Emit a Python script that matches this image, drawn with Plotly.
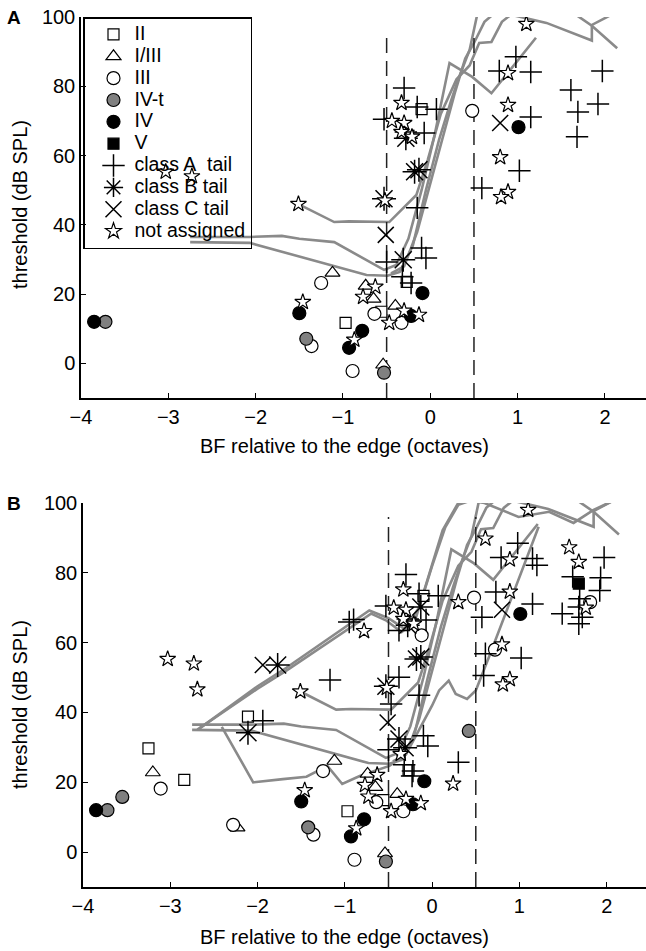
import plotly.graph_objects as go

FONT = "Liberation Sans"

# ---------------- data (shared by both panels) ----------------
II_x = [-0.97, -0.10, -0.56, -0.27]
II_y = [11.7, 73.4, 14.9, 23.5]
I3_x = [-1.12, -0.74, -0.65, -0.40, -0.54]
I3_y = [26.1, 22.4, 18.6, 16.6, -0.4]
III_x = [-1.25, -0.64, -0.33, -1.36, -0.89, 0.48]
III_y = [23.2, 14.3, 11.7, 5.0, -2.2, 72.9]
IVt_x = [-3.72, -1.42, -0.53]
IVt_y = [12.0, 7.1, -2.7]
IV_x = [-3.85, -1.50, -0.78, -0.93, -0.22, -0.09, 1.01]
IV_y = [12.0, 14.5, 9.4, 4.5, 13.7, 20.3, 68.2]
V_x = []
V_y = []
cA_x = [-0.30, -0.15, 0.07, -0.53, -0.28, -0.07, -0.15, -0.10, -0.05, -0.32, -0.22, -0.50,
        0.98, 0.79, 1.15, 1.97, 1.61, 1.92, 1.69, 1.68, 1.15, 1.02, 0.59]
cA_y = [79.5, 74.0, 73.4, 70.5, 66.8, 66.5, 44.9, 33.3, 30.4, 25.0, 23.2, 29.3,
        88.5, 84.4, 84.1, 84.4, 78.9, 74.9, 72.6, 65.4, 71.1, 55.6, 50.6]
cB_x = [-0.53, -0.28, -0.18, -0.13, -0.31]
cB_y = [47.5, 65.0, 55.3, 55.9, 29.9]
cC_x = [-0.51, 0.80]
cC_y = [37.1, 69.4]
na_x = [-3.03, -2.73, -1.51, -0.52, -0.33, -0.44, -0.30, -0.33, -0.21, -1.46, -0.63,
        -0.77, -0.47, -0.30, -0.13, -0.87, 1.10, 0.89, 0.89, 0.80, 0.89, 0.81]
na_y = [55.3, 54.0, 46.0, 47.0, 75.2, 70.0, 69.4, 66.8, 65.4, 17.7, 22.1,
        19.2, 11.7, 15.2, 14.0, 6.8, 98.0, 83.8, 74.6, 59.5, 49.5, 48.0]

# ---------------- extra units only in panel B ----------------
II_bx = [-3.25, -2.84, -2.11]
II_by = [29.7, 20.7, 38.8]
I3_bx = [-3.20, -2.23]
I3_by = [22.8, 7.0]
III_bx = [-3.11, -2.28, 1.81, 0.72, -0.12]
III_by = [18.2, 7.8, 71.6, 58.0, 62.1]
IVt_bx = [-3.55, 0.42]
IVt_by = [15.8, 34.7]
IV_bx = []
IV_by = []
V_bx = [1.68]
V_by = [76.9]
cA_bx = [-1.17, -1.94, -0.47, -0.38, 0.30, -0.95, -0.90, -0.38, 1.20, 1.93, 1.68, 1.49,
         1.72, 0.73, 0.57, 0.61, -0.23]
cA_by = [49.3, 37.6, 42.4, 50.1, 25.7, 65.9, 66.6, 63.5, 82.2, 78.6, 70.2, 68.3,
         67.3, 74.5, 67.3, 56.8, 21.8]
cB_bx = [-1.77, -2.11, -0.13, -0.38]
cB_by = [53.6, 34.2, 70.2, 32.4]
cC_bx = [-1.94]
cC_by = [53.6]
na_bx = [-2.69, 0.61, 1.57, 1.68, 1.76, 0.30, -0.78, 0.24, -0.36, -0.73]
na_by = [46.6, 89.8, 87.3, 83.1, 70.0, 71.6, 63.3, 19.6, 28.1, 15.9]

# ---------------- gray threshold curves ----------------
c1_x = [-1.51, -1.10, -0.93, -0.47, -0.16, -0.03, 0.12, 0.30, 0.45, 0.56, 0.70, 0.82, 0.94]
c1_y = [46.0, 40.8, 41.0, 40.8, 48.6, 58.7, 72.0, 82.0, 86.0, 92.5, 92.8, 98.6, 101.0]
c2_x = [-2.75, -2.07, -1.70, -1.50, -1.10, -0.53, -0.39, -0.25, -0.10, 0.05, 0.22, 0.48, 0.70, 1.21]
c2_y = [36.5, 36.5, 36.8, 36.0, 35.0, 27.0, 28.4, 36.0, 50.0, 66.0, 86.7, 82.7, 78.0, 94.0]
c3_x = [-2.75, -2.07, -0.73, -0.49, -0.35, -0.20, -0.05, 0.10, 0.24, 0.33, 0.45, 0.54]
c3_y = [35.0, 34.8, 25.5, 25.3, 26.4, 34.0, 50.0, 64.5, 76.0, 82.7, 90.5, 101.0]
c4_x = [-0.45, -0.30, -0.15, 0.00, 0.15, 0.28, 0.40, 0.50, 0.62, 0.73]
c4_y = [26.0, 28.0, 38.0, 52.0, 66.0, 78.0, 88.0, 92.5, 98.6, 101.0]
c5_x = [0.95, 1.33, 1.85, 1.85, 2.07]
c5_y = [100.5, 98.3, 93.2, 97.7, 100.6]
c6_x = [1.67, 1.85, 2.14]
c6_y = [100.6, 97.5, 91.0]
d1_x = [-2.69, -2.00, -1.67, -0.70, -0.53, -0.35, -0.20, -0.05, 0.12, 0.31]
d1_y = [35.1, 46.8, 52.0, 68.3, 66.4, 63.0, 66.0, 78.0, 92.2, 100.5]
d2_x = [-2.66, -2.00, -1.67, -0.72, -0.50, -0.32, -0.15, 0.00, 0.15, 0.30, 0.42]
d2_y = [35.5, 47.5, 52.8, 69.2, 67.0, 64.0, 70.0, 82.0, 93.0, 99.5, 100.5]
d3_x = [-2.41, -2.05, -1.71, -1.44, -1.20, -1.03, -0.83, -0.49, -0.30, -0.15, 0.00, 0.08,
        0.19, 0.27, 0.40, 0.50, 0.65, 1.22]
d3_y = [35.9, 20.0, 20.9, 21.6, 24.7, 19.5, 21.8, 24.7, 28.0, 35.0, 42.0, 46.3,
        49.1, 45.3, 43.9, 46.3, 55.8, 93.2]
d4_x = [0.35, 0.60, 0.99, 1.34, 1.62, 1.85, 2.06]
d4_y = [101.0, 100.0, 96.0, 97.5, 94.3, 98.0, 100.5]

edge_x = [-0.5, 0.5]
edge_y = [-10, 96]

legend_names = ["II", "I/III", "III", "IV-t", "IV", "V", "class A\u00a0 tail",
                "class B tail", "class C tail", "not assigned"]

# ---------------- styles ----------------
GRAY = "#8a8a8a"
style_list = [
    dict(symbol="square", size=11, color="white", line=dict(color="black", width=1.2)),
    dict(symbol="triangle-up", size=13, color="white", line=dict(color="black", width=1.2)),
    dict(symbol="circle", size=13, color="white", line=dict(color="black", width=1.2)),
    dict(symbol="circle", size=13, color="#808080", line=dict(color="black", width=1.2)),
    dict(symbol="circle", size=13, color="black", line=dict(color="black", width=1.2)),
    dict(symbol="square", size=11, color="black", line=dict(color="black", width=1.2)),
    dict(symbol="cross-thin-open", size=16, color="black", line=dict(color="black", width=1.5)),
    dict(symbol="asterisk-open", size=20, color="black", line=dict(color="black", width=1.5)),
    dict(symbol="x-thin-open", size=16, color="black", line=dict(color="black", width=1.5)),
    dict(symbol="star", size=12, color="white", line=dict(color="black", width=1.2)),
]

shared = [(II_x, II_y), (I3_x, I3_y), (III_x, III_y), (IVt_x, IVt_y), (IV_x, IV_y), (V_x, V_y),
          (cA_x, cA_y), (cB_x, cB_y), (cC_x, cC_y), (na_x, na_y)]
extra = [(II_bx, II_by), (I3_bx, I3_by), (III_bx, III_by), (IVt_bx, IVt_by), (IV_bx, IV_by),
         (V_bx, V_by), (cA_bx, cA_by), (cB_bx, cB_by), (cC_bx, cC_by), (na_bx, na_by)]
curvesA = [(c1_x, c1_y), (c2_x, c2_y), (c3_x, c3_y), (c4_x, c4_y), (c5_x, c5_y), (c6_x, c6_y)]
curvesB = curvesA + [(d1_x, d1_y), (d2_x, d2_y), (d3_x, d3_y), (d4_x, d4_y)]

fig = go.Figure()

for panel, (xa, ya) in (("A", ("x", "y")), ("B", ("x2", "y2"))):
    curves = curvesA if panel == "A" else curvesB
    for cx, cy in curves:
        fig.add_trace(go.Scatter(x=cx, y=cy, mode="lines", xaxis=xa, yaxis=ya,
                                 line=dict(color=GRAY, width=2.6), showlegend=False, hoverinfo="skip"))
    for ex in edge_x:
        fig.add_trace(go.Scatter(x=[ex, ex], y=edge_y, mode="lines", xaxis=xa, yaxis=ya,
                                 line=dict(color="#222222", width=1.5, dash="15px,8px"),
                                 showlegend=False, hoverinfo="skip"))
    for i, name in enumerate(legend_names):
        px, py = list(shared[i][0]), list(shared[i][1])
        if panel == "B":
            px += extra[i][0]
            py += extra[i][1]
        fig.add_trace(go.Scatter(x=px, y=py, mode="markers", xaxis=xa, yaxis=ya,
                                 marker=style_list[i], showlegend=False, name=name))

# legend-only entries
for i, name in enumerate(legend_names):
    fig.add_trace(go.Scatter(x=[None], y=[None], mode="markers", marker=style_list[i],
                             name='<span style="font-size:19.5px">%s</span>' % name, showlegend=True))

axis_common = dict(showline=True, linecolor="black", linewidth=1.5, ticks="inside", ticklen=5,
                   tickcolor="black", tickwidth=1.3, showgrid=False, zeroline=False,
                   automargin=False,
                   tickfont=dict(family=FONT, size=20, color="black"))

fig.update_layout(
    template="none",
    width=646, height=951, margin=dict(l=0, r=0, t=0, b=0, pad=0, autoexpand=False),
    plot_bgcolor="rgba(0,0,0,0)", paper_bgcolor="white",
    xaxis=dict(domain=[81 / 646, 1.0], range=[-4, 2.47], tickvals=[-4, -3, -2, -1, 0, 1, 2],
               anchor="y", **axis_common),
    yaxis=dict(domain=[1 - 398 / 951, 1 - 17 / 951], range=[-10, 100],
               tickvals=[0, 20, 40, 60, 80, 100], anchor="x", **axis_common),
    xaxis2=dict(domain=[83 / 646, 1.0], range=[-4, 2.45], tickvals=[-4, -3, -2, -1, 0, 1, 2],
                anchor="y2", **axis_common),
    yaxis2=dict(domain=[1 - 887 / 951, 1 - 503 / 951], range=[-10, 100],
                tickvals=[0, 20, 40, 60, 80, 100], anchor="x2", **axis_common),
    legend=dict(x=83 / 646, y=1 - 17 / 951, xanchor="left", yanchor="top",
                bgcolor="rgba(255,255,255,0)", bordercolor="black", borderwidth=1.5,
                font=dict(family=FONT, size=14.5, color="black"), itemwidth=32,
                indentation=8, tracegroupgap=0),
    showlegend=True,
    font=dict(family=FONT, color="black"),
)

annots = [
    dict(text="<b>A</b>", x=14 / 646, y=1 - 17 / 951),
    dict(text="<b>B</b>", x=14 / 646, y=1 - 503 / 951),
]
for a in annots:
    fig.add_annotation(xref="paper", yref="paper", x=a["x"], y=a["y"], text=a["text"],
                       showarrow=False, xanchor="center", yanchor="middle",
                       font=dict(family=FONT, size=19, color="black"))
for ty in (1 - 446 / 951, 1 - 937 / 951):
    fig.add_annotation(xref="paper", yref="paper", x=345 / 646, y=ty,
                       xanchor="center", yanchor="middle",
                       text="BF relative to the edge (octaves)", showarrow=False,
                       font=dict(family=FONT, size=20, color="black"))
for ty in (1 - 205 / 951, 1 - 705 / 951):
    fig.add_annotation(xref="paper", yref="paper", x=20 / 646, y=ty, textangle=-90,
                       xanchor="center", yanchor="middle",
                       text="threshold (dB SPL)", showarrow=False,
                       font=dict(family=FONT, size=20, color="black"))

fig.write_html("out.html", config={"displayModeBar": False},
               post_script="document.body.style.margin='0px';")
